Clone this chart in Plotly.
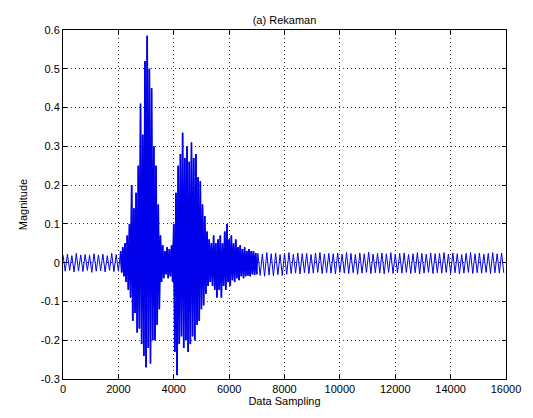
import plotly.graph_objects as go

# Values.
# Quiet part before the speech: peaks at 160-sample spacing (troughs offset by 80).
pre_upper = [0.020, 0.022, 0.018, 0.024, 0.020, 0.021, 0.019, 0.023, 0.020, 0.022, 0.018, 0.024, 0.021]
pre_lower = [-0.022, -0.020, -0.024, -0.021, -0.023, -0.020, -0.025, -0.022, -0.021, -0.024, -0.020, -0.023, -0.022]

# Speech part (from sample 2080): peaks every 80 samples, troughs offset by 40.
burst_upper = [0.030, 0.040, 0.050, 0.070, 0.100, 0.200, 0.140, 0.180, 0.250, 0.410,
               0.330, 0.520, 0.585, 0.500, 0.450, 0.300, 0.250, 0.150, 0.070, 0.045,
               0.030, 0.040, 0.035, 0.045, 0.100, 0.180, 0.250, 0.280, 0.335, 0.270,
               0.300, 0.260, 0.310, 0.270, 0.280, 0.220, 0.210, 0.150, 0.120, 0.080,
               0.060, 0.050, 0.070, 0.050, 0.060, 0.070, 0.050, 0.080, 0.100, 0.060,
               0.070, 0.050, 0.060, 0.040, 0.045, 0.035, 0.040, 0.030, 0.035, 0.030,
               0.030, 0.025]
burst_lower = [-0.025, -0.035, -0.050, -0.070, -0.090, -0.150, -0.130, -0.180, -0.170, -0.210,
               -0.240, -0.270, -0.220, -0.260, -0.200, -0.200, -0.160, -0.120, -0.050, -0.040,
               -0.030, -0.040, -0.035, -0.050, -0.230, -0.290, -0.210, -0.190, -0.220, -0.200,
               -0.230, -0.210, -0.190, -0.200, -0.160, -0.150, -0.120, -0.110, -0.080, -0.060,
               -0.050, -0.060, -0.070, -0.090, -0.070, -0.090, -0.060, -0.070, -0.050, -0.060,
               -0.045, -0.050, -0.040, -0.045, -0.035, -0.040, -0.035, -0.033, -0.035, -0.030,
               -0.032, -0.030]

# Quiet part after the speech (from sample 7040): 160-sample spacing.
post_upper = [0.024, 0.022, 0.026, 0.023, 0.025, 0.021, 0.024, 0.026, 0.022, 0.025, 0.023, 0.024,
              0.021, 0.025, 0.026, 0.022, 0.024, 0.023, 0.025, 0.022, 0.026, 0.024, 0.021, 0.025,
              0.023, 0.027, 0.022, 0.024, 0.025, 0.023, 0.026, 0.022, 0.024, 0.025, 0.021, 0.023,
              0.026, 0.024, 0.022, 0.025, 0.023, 0.024, 0.026, 0.022, 0.025, 0.023, 0.021, 0.024,
              0.026, 0.023, 0.025, 0.022, 0.024, 0.026, 0.023, 0.025]
post_lower = [-0.033, -0.035, -0.032, -0.034, -0.031, -0.033, -0.030, -0.028, -0.027, -0.029, -0.026, -0.028,
              -0.027, -0.025, -0.028, -0.026, -0.027, -0.029, -0.025, -0.027, -0.028, -0.026, -0.030, -0.027,
              -0.025, -0.028, -0.026, -0.027, -0.029, -0.025, -0.028, -0.026, -0.027, -0.025, -0.028, -0.026,
              -0.029, -0.027, -0.025, -0.028, -0.026, -0.027, -0.025, -0.028, -0.026, -0.029, -0.027, -0.025,
              -0.028, -0.026, -0.027, -0.025, -0.028, -0.026, -0.027, -0.026]

x_ticks = [0, 2000, 4000, 6000, 8000, 10000, 12000, 14000, 16000]
y_ticks = [-0.3, -0.2, -0.1, 0, 0.1, 0.2, 0.3, 0.4, 0.5, 0.6]
y_labels = ["-0.3", "-0.2", "-0.1", "0", "0.1", "0.2", "0.3", "0.4", "0.5", "0.6"]


def segment(start, step, up, lo):
    pts = [(start + step * i, v) for i, v in enumerate(up)]
    pts += [(start + step * i + step // 2, v) for i, v in enumerate(lo)]
    return sorted(pts)


pre = segment(0, 160, pre_upper, pre_lower)
burst = segment(2080, 80, burst_upper, burst_lower)
post = segment(7040, 160, post_upper, post_lower)
allpts = pre + burst + post

blue = "rgb(0,0,235)"
fig = go.Figure()
fig.add_trace(go.Scatter(x=[p[0] for p in allpts], y=[p[1] for p in allpts], mode="lines",
                         line=dict(color=blue, width=1), hoverinfo="skip"))
# denser-looking speech section
fig.add_trace(go.Scatter(x=[p[0] for p in burst], y=[p[1] for p in burst], mode="lines",
                         line=dict(color=blue, width=1.7), hoverinfo="skip"))

font = dict(family="Liberation Sans, Arial, sans-serif", size=11, color="black")
axis_common = dict(showline=True, linecolor="black", linewidth=1, mirror="ticks",
                   ticks="inside", ticklen=4, tickcolor="black",
                   showgrid=True, gridcolor="#333333", gridwidth=1, griddash="1px,3px",
                   zeroline=False, tickfont=font)

fig.update_xaxes(range=[0, 16000], tickvals=x_ticks, ticktext=[str(t) for t in x_ticks],
                 title=dict(text="Data Sampling", font=font, standoff=2), **axis_common)
fig.update_yaxes(range=[-0.3, 0.6], tickvals=y_ticks, ticktext=y_labels,
                 title=dict(text="Magnitude", font=font, standoff=10), **axis_common)

# the page body adds an 8px margin, so the figure is laid out 8px smaller
fig.update_layout(width=525, height=410, margin=dict(l=55, r=25, t=22, b=39),
                  paper_bgcolor="white", plot_bgcolor="white", showlegend=False,
                  title=dict(text="(a) Rekaman", font=font, x=0.5, xanchor="center",
                             xref="paper", y=1, yref="paper", yanchor="bottom", pad=dict(b=6)))

fig.write_html("out.html")
